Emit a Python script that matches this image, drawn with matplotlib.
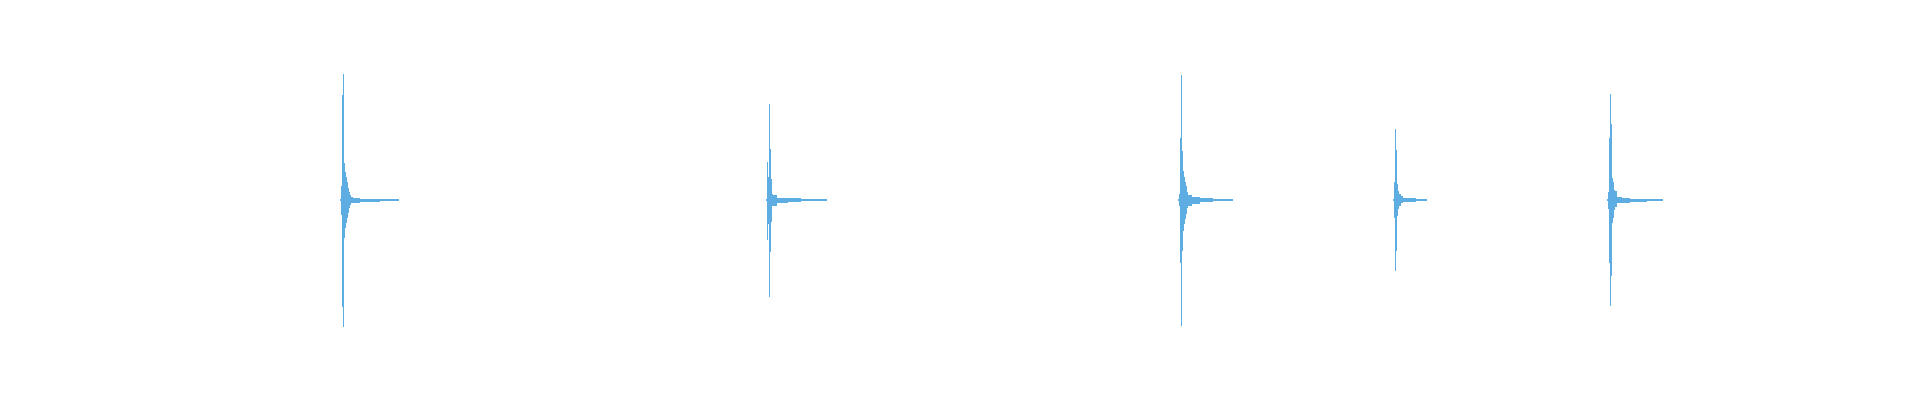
import numpy as np
import matplotlib
matplotlib.use("Agg")
import matplotlib.pyplot as plt

# waveform envelope of five hits
# onset time of each hit (s)
onsets = [1.700, 3.830, 5.890, 6.965, 8.035]

# offsets from onset (ms) and upper / lower envelope (amplitude, full scale = 1)
hit1_ms = [0, 5, 10, 15, 20, 25, 30, 35, 40, 45, 50, 55, 65, 100, 200, 295]
hit1_up = [0.005, 0.07, 0.525, 0.63, 0.185, 0.14, 0.115, 0.09, 0.06, 0.04, 0.025, 0.015, 0.0125, 0.0075, 0.003, 0]
hit1_lo = [0.005, 0.075, 0.535, 0.635, 0.19, 0.14, 0.115, 0.09, 0.065, 0.04, 0.025, 0.015, 0.015, 0.01, 0.003, 0]

hit2_ms = [0, 5, 10, 15, 20, 25, 30, 35, 55, 110, 175, 305]
hit2_up = [0.005, 0.19, 0.115, 0.48, 0.255, 0.105, 0.03, 0.025, 0.0125, 0.01, 0.004, 0]
hit2_lo = [0.005, 0.20, 0.12, 0.485, 0.26, 0.11, 0.03, 0.03, 0.015, 0.01, 0.004, 0]

hit3_ms = [0, 5, 10, 15, 20, 25, 30, 35, 40, 45, 50, 70, 110, 175, 275]
hit3_up = [0.005, 0.03, 0.31, 0.625, 0.245, 0.145, 0.115, 0.09, 0.07, 0.04, 0.025, 0.0175, 0.01, 0.0035, 0]
hit3_lo = [0.005, 0.03, 0.315, 0.63, 0.255, 0.155, 0.12, 0.095, 0.07, 0.04, 0.03, 0.0175, 0.01, 0.0035, 0]

hit4_ms = [0, 5, 10, 15, 20, 25, 30, 40, 50, 115, 170]
hit4_up = [0.005, 0.09, 0.355, 0.25, 0.08, 0.045, 0.03, 0.02, 0.01, 0.0035, 0]
hit4_lo = [0.005, 0.09, 0.355, 0.255, 0.08, 0.045, 0.03, 0.015, 0.01, 0.0035, 0]

hit5_ms = [0, 5, 10, 15, 20, 25, 30, 35, 40, 50, 75, 115, 200, 280]
hit5_up = [0.005, 0.04, 0.31, 0.53, 0.38, 0.11, 0.09, 0.05, 0.045, 0.015, 0.0125, 0.0075, 0.003, 0]
hit5_lo = [0.005, 0.045, 0.315, 0.53, 0.38, 0.115, 0.09, 0.05, 0.035, 0.015, 0.0125, 0.0075, 0.003, 0]

hits = [
    (hit1_ms, hit1_up, hit1_lo),
    (hit2_ms, hit2_up, hit2_lo),
    (hit3_ms, hit3_up, hit3_lo),
    (hit4_ms, hit4_up, hit4_lo),
    (hit5_ms, hit5_up, hit5_lo),
]

duration = 9.6
wave_color = "#5dade2"

fig = plt.figure(figsize=(19.2, 4), dpi=100)
ax = fig.add_axes([0, 0, 1, 1])

for t0, (ms, up, lo) in zip(onsets, hits):
    t = t0 + np.array(ms) / 1000.0
    ax.fill_between(t, -np.array(lo), np.array(up), step="post",
                    color=wave_color, linewidth=0)

ax.set_xlim(0, duration)
ax.set_ylim(-1, 1)
ax.axis("off")

plt.savefig("out.png", dpi=100, facecolor="white")
